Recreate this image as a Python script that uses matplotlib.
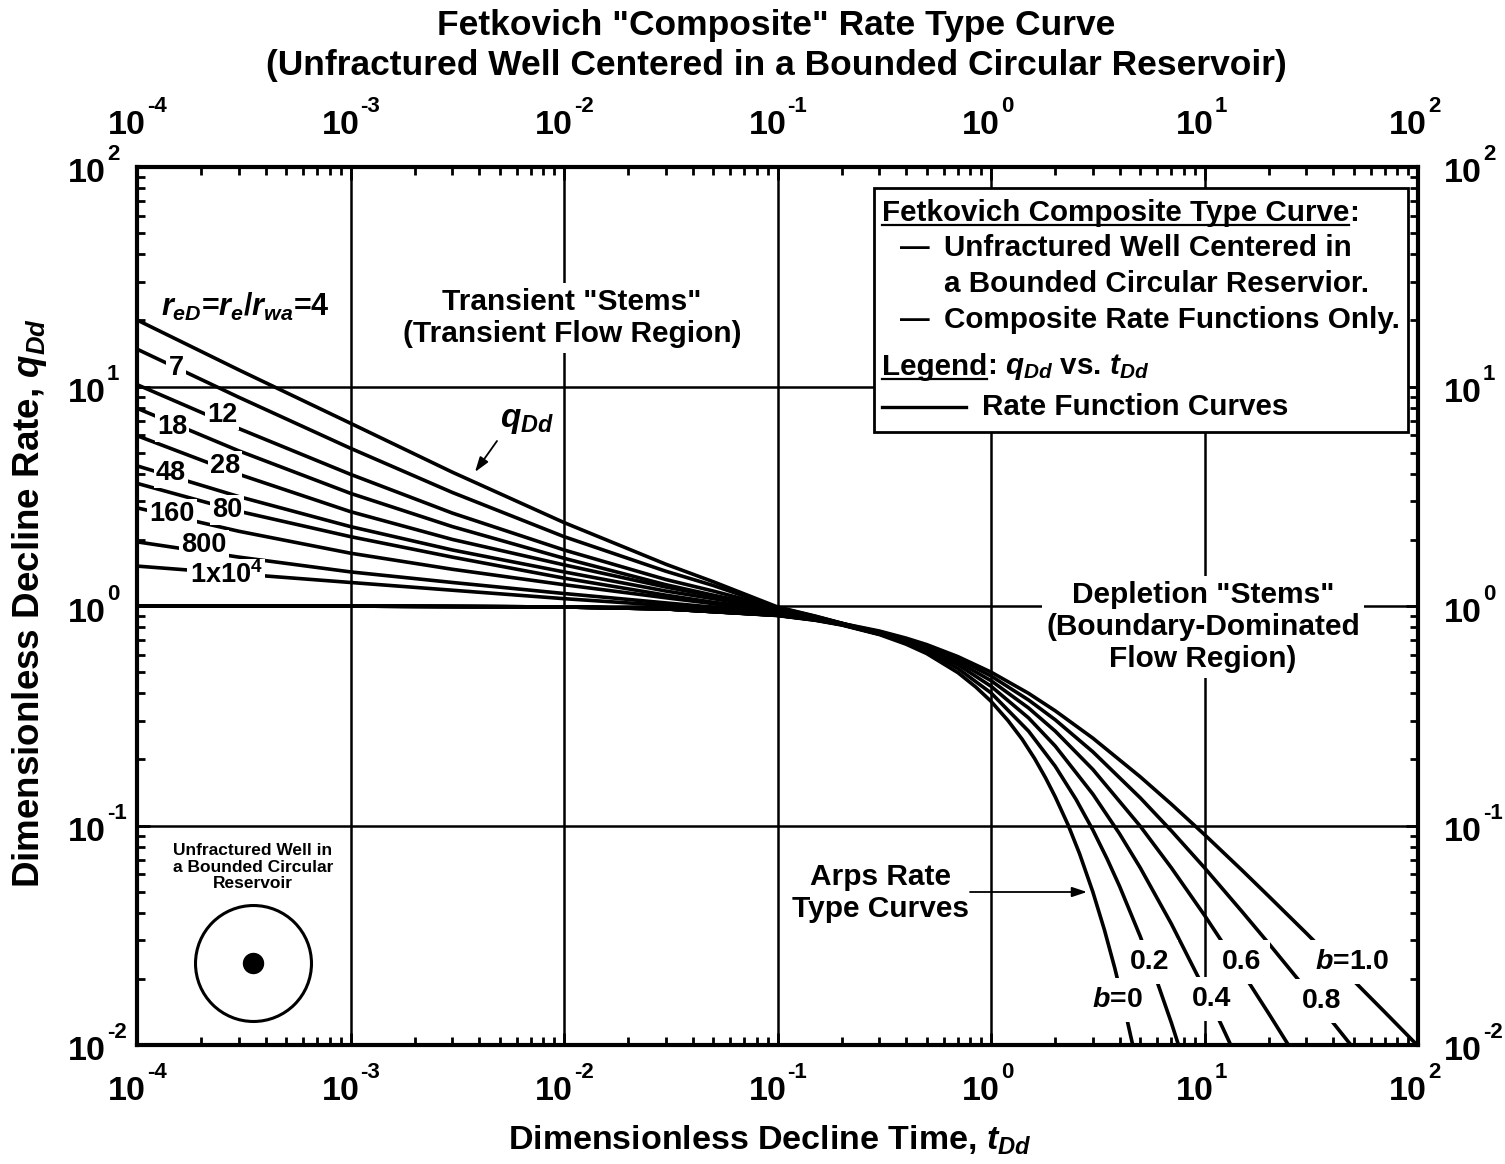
import matplotlib
matplotlib.use("Agg")
import matplotlib.pyplot as plt
from matplotlib import transforms

plt.rcParams['font.family'] = ['Liberation Sans', 'DejaVu Sans']
plt.rcParams['font.weight'] = 'bold'
plt.rcParams['mathtext.fontset'] = 'custom'
plt.rcParams['mathtext.rm'] = 'Liberation Sans:bold'
plt.rcParams['mathtext.it'] = 'Liberation Sans:italic:bold'
plt.rcParams['mathtext.bf'] = 'Liberation Sans:bold'

# ---------------- data ----------------
t_stem = [1e-4, 3e-4, 1e-3, 3e-3, 1e-2, 3e-2, 5e-2, 0.1, 0.15, 0.2, 0.3]
reD_labels = ['4', '7', '12', '18', '28', '48', '80', '160', '800', '1x10^4']
q_stem_4 = [20.1, 11.9, 6.80, 4.07, 2.40, 1.55, 1.29, 0.990, 0.900, 0.835, 0.750]
q_stem_7 = [14.8, 8.93, 5.23, 3.29, 2.07, 1.44, 1.24, 0.985, 0.897, 0.834, 0.749]
q_stem_12 = [10.2, 6.43, 3.98, 2.65, 1.80, 1.32, 1.17, 0.980, 0.894, 0.832, 0.748]
q_stem_18 = [7.96, 5.09, 3.26, 2.30, 1.65, 1.25, 1.12, 0.975, 0.891, 0.831, 0.748]
q_stem_28 = [5.97, 3.98, 2.69, 2.01, 1.54, 1.22, 1.11, 0.972, 0.889, 0.830, 0.747]
q_stem_48 = [4.35, 3.15, 2.30, 1.80, 1.43, 1.17, 1.08, 0.968, 0.886, 0.829, 0.747]
q_stem_80 = [3.62, 2.70, 2.07, 1.67, 1.34, 1.12, 1.04, 0.958, 0.882, 0.827, 0.746]
q_stem_160 = [2.80, 2.19, 1.74, 1.47, 1.25, 1.09, 1.025, 0.946, 0.877, 0.825, 0.746]
q_stem_800 = [1.96, 1.67, 1.43, 1.28, 1.14, 1.033, 0.988, 0.931, 0.872, 0.823, 0.745]
q_stem_1e4 = [1.52, 1.40, 1.28, 1.18, 1.08, 1.006, 0.974, 0.925, 0.868, 0.822, 0.745]

t_b0 = [1e-4, 1e-3, 1e-2, 0.03, 0.1, 0.15, 0.2, 0.3, 0.4, 0.5, 0.7, 0.85, 1.0, 1.2, 1.4,
        1.6, 1.8, 2.0, 2.3, 2.6, 3.0, 3.4, 3.8, 4.2, 4.6, 4.8]
q_b0 = [1.0, 0.999, 0.990, 0.970, 0.905, 0.861, 0.819, 0.741, 0.670, 0.607, 0.497, 0.427,
        0.368, 0.301, 0.247, 0.202, 0.165, 0.135, 0.1003, 0.0743, 0.0498, 0.0334, 0.0224,
        0.0150, 0.0101, 0.0082]
t_b02 = [1e-4, 1e-3, 1e-2, 0.03, 0.1, 0.15, 0.2, 0.3, 0.4, 0.5, 0.7, 1.0, 1.5, 2.0, 2.5,
         3.0, 3.5, 4.0, 5.0, 6.0, 7.0, 8.0]
q_b02 = [1.0, 0.999, 0.990, 0.970, 0.906, 0.863, 0.822, 0.747, 0.681, 0.621, 0.519, 0.402,
         0.269, 0.186, 0.1317, 0.0954, 0.0704, 0.0529, 0.03125, 0.0194, 0.0126, 0.00841]
t_b04 = [1e-4, 1e-3, 1e-2, 0.03, 0.1, 0.15, 0.2, 0.3, 0.4, 0.5, 0.7, 1.0, 1.5, 2.0, 3.0,
         4.0, 5.0, 7.0, 10.0, 12.0, 14.0]
q_b04 = [1.0, 0.999, 0.990, 0.970, 0.907, 0.865, 0.825, 0.753, 0.690, 0.634, 0.540, 0.431,
         0.309, 0.230, 0.139, 0.0917, 0.0642, 0.0356, 0.0179, 0.01234, 0.00894]
t_b06 = [1e-4, 1e-3, 1e-2, 0.03, 0.1, 0.15, 0.2, 0.3, 0.4, 0.5, 0.7, 1.0, 1.5, 2.0, 3.0,
         5.0, 7.0, 10.0, 15.0, 20.0, 27.0]
q_b06 = [1.0, 0.999, 0.990, 0.970, 0.907, 0.866, 0.828, 0.759, 0.699, 0.646, 0.557, 0.457,
         0.343, 0.269, 0.180, 0.0993, 0.0641, 0.0390, 0.0215, 0.0139, 0.00872]
t_b08 = [1e-4, 1e-3, 1e-2, 0.03, 0.1, 0.15, 0.2, 0.3, 0.4, 0.5, 0.7, 1.0, 1.5, 2.0, 3.0,
         5.0, 7.0, 10.0, 15.0, 20.0, 30.0, 40.0, 55.0]
q_b08 = [1.0, 0.999, 0.990, 0.970, 0.908, 0.868, 0.831, 0.764, 0.707, 0.657, 0.574, 0.480,
         0.373, 0.303, 0.2166, 0.1337, 0.0945, 0.0642, 0.0405, 0.0290, 0.0179, 0.01264, 0.00858]
t_b10 = [1e-4, 1e-3, 1e-2, 0.03, 0.1, 0.15, 0.2, 0.3, 0.4, 0.5, 0.7, 1.0, 1.5, 2.0, 3.0,
         5.0, 7.0, 10.0, 15.0, 20.0, 30.0, 50.0, 70.0, 100.0]
q_b10 = [1.0, 0.999, 0.990, 0.971, 0.909, 0.870, 0.833, 0.769, 0.714, 0.667, 0.588, 0.5,
         0.4, 0.333, 0.25, 0.1667, 0.125, 0.0909, 0.0625, 0.0476, 0.0323, 0.0196, 0.0141, 0.0099]

decade_ticks = [1e-4, 1e-3, 1e-2, 1e-1, 1e0, 1e1, 1e2]
x_exponents = ['-4', '-3', '-2', '-1', '0', '1', '2']
y_ticks = [1e-2, 1e-1, 1e0, 1e1, 1e2]
y_exponents = ['-2', '-1', '0', '1', '2']

stems = [q_stem_4, q_stem_7, q_stem_12, q_stem_18, q_stem_28, q_stem_48,
         q_stem_80, q_stem_160, q_stem_800, q_stem_1e4]
arps = [(t_b0, q_b0), (t_b02, q_b02), (t_b04, q_b04), (t_b06, q_b06),
        (t_b08, q_b08), (t_b10, q_b10)]

# ---------------- layout ----------------
W, H = 1505, 1164
L, R, T, B = 137, 1418, 167, 1045
fig = plt.figure(figsize=(W / 100, H / 100), dpi=100)
ax = fig.add_axes([L / W, 1 - B / H, (R - L) / W, (B - T) / H])


def axp(px, py):
    return ((px - L) / (R - L), (B - py) / (B - T))


def figp(px, py):
    return (px / W, 1 - py / H)


ax.set_xscale('log')
ax.set_yscale('log')
ax.set_xlim(1e-4, 1e2)
ax.set_ylim(1e-2, 1e2)
ax.set_axisbelow(True)
ax.grid(True, which='major', color='black', lw=1.8)
ax.grid(False, which='minor')
for s in ax.spines.values():
    s.set_linewidth(3)
ax.tick_params(which='both', direction='in', top=True, right=True,
               labelbottom=False, labelleft=False, color='black')
ax.tick_params(which='major', length=9, width=2)
ax.tick_params(which='minor', length=6, width=2)

LW = 2.6
for q in stems:
    ax.plot(t_stem, q, color='black', lw=LW, solid_capstyle='butt', solid_joinstyle='round', zorder=3)
for t, q in arps:
    ax.plot(t, q, color='black', lw=LW, solid_capstyle='butt', solid_joinstyle='round', zorder=3)

# ---------------- tick labels ----------------
FS_T, FS_E = 24.5, 16
px_in = 1 / 100
for v, e in zip(decade_ticks, x_exponents):
    tr = transforms.blended_transform_factory(ax.transData, fig.transFigure)
    for yb, ye in ((1092, 1073), (126, 107)):
        ax.text(v, figp(0, yb)[1], '10',
                transform=tr + transforms.ScaledTranslation(-10 * px_in, 0, fig.dpi_scale_trans),
                ha='center', va='center', fontsize=FS_T, clip_on=False)
        ax.text(v, figp(0, ye)[1], e,
                transform=tr + transforms.ScaledTranslation(10 * px_in, 0, fig.dpi_scale_trans),
                ha='left', va='center', fontsize=FS_E, clip_on=False)
for v, e in zip(y_ticks, y_exponents):
    tr = transforms.blended_transform_factory(fig.transFigure, ax.transData)
    off_10 = transforms.ScaledTranslation(0, -7 * px_in, fig.dpi_scale_trans)
    off_e = transforms.ScaledTranslation(0, 12 * px_in, fig.dpi_scale_trans)
    ax.text(figp(106, 0)[0], v, '10', transform=tr + off_10, ha='right', va='center',
            fontsize=FS_T, clip_on=False)
    ax.text(figp(107, 0)[0], v, e, transform=tr + off_e, ha='left', va='center',
            fontsize=FS_E, clip_on=False)
    ax.text(figp(1444, 0)[0], v, '10', transform=tr + off_10, ha='left', va='center',
            fontsize=FS_T, clip_on=False)
    ax.text(figp(1483, 0)[0], v, e, transform=tr + off_e, ha='left', va='center',
            fontsize=FS_E, clip_on=False)

# ---------------- titles / axis labels ----------------
fig.text(*figp(776, 25), 'Fetkovich "Composite" Rate Type Curve', ha='center', va='center', fontsize=25.5)
fig.text(*figp(776, 66), '(Unfractured Well Centered in a Bounded Circular Reservoir)',
         ha='center', va='center', fontsize=25.5)
fig.text(*figp(770, 1140), r'Dimensionless Decline Time, $t_{Dd}$', ha='center', va='center', fontsize=24.5)
fig.text(*figp(30, 603), r'Dimensionless Decline Rate, $q_{Dd}$', ha='center', va='center',
         fontsize=26.5, rotation=90)

# ---------------- annotations in plot ----------------
WB = dict(boxstyle='square,pad=0.08', fc='white', ec='none')
FS_IN = 21.5

ax.text(*axp(245, 307), r'$r_{eD}$=$r_e$/$r_{wa}$=4', transform=ax.transAxes, ha='center',
        va='center', fontsize=22, zorder=6)
curve_label_pos = [(176, 368), (222, 415), (172, 427), (225, 466), (171, 473),
                   (227, 510), (172, 514), (204, 545)]
for lab, (px, py) in zip(reD_labels[1:9], curve_label_pos):
    ax.text(*axp(px, py), lab, transform=ax.transAxes, ha='center', va='center',
            fontsize=19.5, bbox=WB, zorder=6)
ax.text(*axp(226, 575), r'1x10$^{4}$', transform=ax.transAxes, ha='center', va='center',
        fontsize=19.5, bbox=WB, zorder=6)

ax.text(*axp(572, 318), 'Transient "Stems"\n(Transient Flow Region)', transform=ax.transAxes,
        ha='center', va='center', fontsize=FS_IN, linespacing=1.2,
        bbox=dict(boxstyle='square,pad=0.15', fc='white', ec='none'), zorder=6)
ax.text(*axp(527, 420), r'$q_{Dd}$', transform=ax.transAxes, ha='center', va='center',
        fontsize=24, zorder=6)
ax.annotate('', xy=axp(475, 472), xytext=axp(497, 441), xycoords='axes fraction',
            textcoords='axes fraction',
            arrowprops=dict(arrowstyle='-|>,head_length=0.9,head_width=0.3', lw=1.3,
                            color='black', shrinkA=0, shrinkB=0), zorder=6)

ax.text(*axp(1203, 627), 'Depletion "Stems"\n(Boundary-Dominated\nFlow Region)',
        transform=ax.transAxes, ha='center', va='center', fontsize=FS_IN, linespacing=1.2,
        bbox=dict(boxstyle='square,pad=0.15', fc='white', ec='none'), zorder=6)

ax.text(*axp(880, 893), 'Arps Rate\nType Curves', transform=ax.transAxes, ha='center',
        va='center', fontsize=FS_IN, linespacing=1.2, zorder=6)
ax.annotate('', xy=axp(1087, 892), xytext=axp(970, 892), xycoords='axes fraction',
            textcoords='axes fraction',
            arrowprops=dict(arrowstyle='-|>,head_length=0.9,head_width=0.3', lw=1.3,
                            color='black', shrinkA=0, shrinkB=0), zorder=6)

b_labels = [r'$b$=1.0', '0.6', '0.2', r'$b$=0', '0.4', '0.8']
b_label_pos = [(1352, 962), (1242, 962), (1150, 962), (1117, 1000), (1212, 999), (1322, 1001)]
for lab, (px, py) in zip(b_labels, b_label_pos):
    ax.text(*axp(px, py), lab, transform=ax.transAxes, ha='center', va='center',
            fontsize=20.5, bbox=dict(boxstyle='square,pad=0.3', fc='white', ec='none'), zorder=6)

# inset sketch
ax.text(*axp(253, 867), 'Unfractured Well in\na Bounded Circular\nReservoir', transform=ax.transAxes,
        ha='center', va='center', fontsize=12.5, linespacing=1.15, zorder=6)
ax.plot(*axp(253, 963), transform=ax.transAxes, marker='o', ms=83.5, mfc='none', mec='black',
        mew=2.2, zorder=6, clip_on=False)
ax.plot(*axp(253, 963), transform=ax.transAxes, marker='o', ms=14.4, mfc='black', mec='black',
        zorder=6, clip_on=False)

# ---------------- legend box ----------------
x0, y0 = axp(874, 432)
x1, y1 = axp(1408, 188)
ax.add_patch(plt.Rectangle((x0, y0), x1 - x0, y1 - y0, transform=ax.transAxes, fc='white',
                           ec='black', lw=2, zorder=5))
FS_L = 21.3
t1 = ax.text(*axp(882, 213), 'Fetkovich Composite Type Curve', transform=ax.transAxes,
             ha='left', va='center', fontsize=FS_L, zorder=7)
ax.text(*axp(900, 248), '\u2014', transform=ax.transAxes, ha='left', va='center', fontsize=FS_L, zorder=7)
ax.text(*axp(944, 248), 'Unfractured Well Centered in', transform=ax.transAxes, ha='left',
        va='center', fontsize=FS_L, zorder=7)
ax.text(*axp(944, 284), 'a Bounded Circular Reservior.', transform=ax.transAxes, ha='left',
        va='center', fontsize=FS_L, zorder=7)
ax.text(*axp(900, 320), '\u2014', transform=ax.transAxes, ha='left', va='center', fontsize=FS_L, zorder=7)
ax.text(*axp(944, 320), 'Composite Rate Functions Only.', transform=ax.transAxes, ha='left',
        va='center', fontsize=FS_L, zorder=7)
t5 = ax.text(*axp(882, 367), 'Legend', transform=ax.transAxes, ha='left', va='center',
             fontsize=FS_L, zorder=7)
ax.plot([axp(882, 0)[0], axp(966, 0)[0]], [axp(0, 407)[1]] * 2, transform=ax.transAxes,
        color='black', lw=2.4, zorder=7)
ax.text(*axp(982, 407), 'Rate Function Curves', transform=ax.transAxes, ha='left',
        va='center', fontsize=FS_L, zorder=7)

fig.canvas.draw()
rend = fig.canvas.get_renderer()
inv = ax.transAxes.inverted()
for tt, tail in ((t1, ':'), (t5, r': $q_{Dd}$ vs. $t_{Dd}$')):
    bb = tt.get_window_extent(rend)
    (ax0, ay0), (ax1, ay1) = inv.transform([[bb.x0, bb.y0], [bb.x1, bb.y1]])
    ax.plot([ax0, ax1], [ay0 + 0.002, ay0 + 0.002], transform=ax.transAxes, color='black',
            lw=1.6, zorder=7)
    ax.text(ax1, tt.get_position()[1], tail, transform=ax.transAxes, ha='left', va='center',
            fontsize=FS_L, zorder=7)

fig.savefig('out.png', dpi=100)
